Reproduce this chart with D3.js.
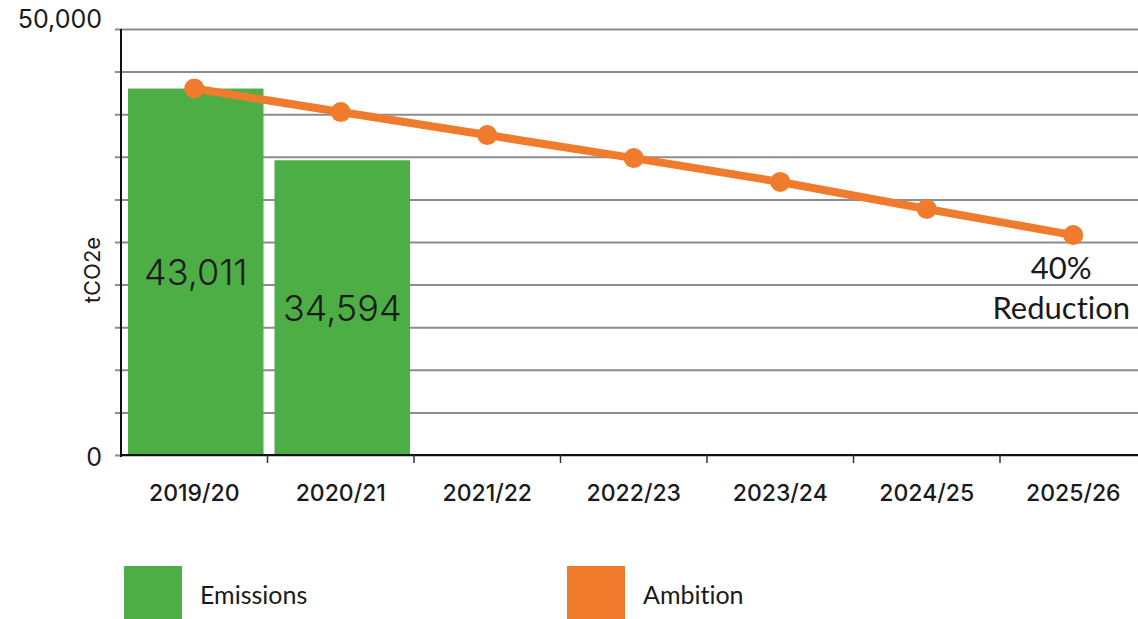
<!DOCTYPE html>
<html>
<head>
<meta charset="utf-8">
<script src="https://cdn.jsdelivr.net/npm/d3@7"></script>
<style>
  html, body { margin: 0; padding: 0; background: #fff; }
  svg { display: block; }
  text { font-variant-ligatures: none; }
</style>
</head>
<body>
<svg id="chart" width="1138" height="619"></svg>
<script>
// Financial years on the x axis
const years = ["2019/20", "2020/21", "2021/22", "2022/23", "2023/24", "2024/25", "2025/26"];
// Measured emissions (tCO2e)
const emissionYears = ["2019/20", "2020/21"];
const emissions = [43011, 34594];
// Ambition trajectory (tCO2e), ending at a 40% reduction on the baseline
const ambition = [43011, 40250, 37550, 34850, 32050, 28870, 25807];
// Y axis ticks: gridlines every 5,000, labels only at the ends
const yTicks = [0, 5000, 10000, 15000, 20000, 25000, 30000, 35000, 40000, 45000, 50000];
const yLabelled = [0, 50000];
const seriesNames = ["Emissions", "Ambition"];

const GREEN = "#4dae46";
const ORANGE = "#f07b2c";
const TEXT = "#1a1a1a";

const svg = d3.select("#chart");
const margin = { left: 121, top: 29 };
const plotH = 426;
const step = 146.5;

const x = d3.scaleBand()
  .domain(years)
  .range([margin.left, margin.left + step * years.length])
  .padding(0);

const y = d3.scaleLinear()
  .domain([0, 50000])
  .range([margin.top + plotH, margin.top]);

// Gridlines with short ticks left of the axis
const gridG = svg.append("g").attr("transform", `translate(${margin.left},0)`)
  .call(d3.axisLeft(y).tickValues(yTicks).tickFormat("").tickSizeInner(6).tickSizeOuter(0));
gridG.select(".domain").remove();
gridG.selectAll(".tick line")
  .attr("x1", -6).attr("x2", 1138 - margin.left)
  .attr("stroke", "#8c8c8c").attr("stroke-width", 2);

// Y axis labels
svg.append("g").selectAll("text").data(yLabelled).join("text")
  .attr("x", 102)
  .attr("y", d => y(d) + (d === 0 ? 11 : -1))
  .attr("text-anchor", "end")
  .attr("font-family", "Inter, 'Open Sans', sans-serif")
  .attr("font-size", 25)
  .attr("fill", TEXT)
  .text(d => d3.format(",")(d));

// Y axis title
svg.append("text")
  .attr("transform", `translate(100,${y(25000) + 28}) rotate(-90)`)
  .attr("text-anchor", "middle")
  .attr("font-family", "Inter, 'Open Sans', sans-serif")
  .attr("font-size", 22)
  .attr("fill", TEXT)
  .text("tCO2e");

// Emission bars
const barPadL = 7, barPadR = 4;
const bars = emissionYears.map((c, i) => ({ year: c, value: emissions[i] }));
svg.append("g").selectAll("rect").data(bars).join("rect")
  .attr("x", d => x(d.year) + barPadL)
  .attr("width", x.bandwidth() - barPadL - barPadR)
  .attr("y", d => y(d.value))
  .attr("height", d => y(0) - y(d.value))
  .attr("fill", GREEN);

// Bar value labels at the middle of each bar
svg.append("g").selectAll("text").data(bars).join("text")
  .attr("x", d => x(d.year) + (barPadL + x.bandwidth() - barPadR) / 2)
  .attr("y", d => (y(d.value) + y(0)) / 2 + 13)
  .attr("text-anchor", "middle")
  .attr("font-family", "Inter, 'Open Sans', sans-serif")
  .attr("font-weight", 300)
  .attr("font-size", 36)
  .attr("fill", TEXT)
  .text(d => d3.format(",")(d.value));

// Y axis line
svg.append("line")
  .attr("x1", margin.left).attr("x2", margin.left)
  .attr("y1", y(50000)).attr("y2", y(0) + 2)
  .attr("stroke", "#111").attr("stroke-width", 2);

// X axis with ticks at band boundaries
const xAxisG = svg.append("g").attr("transform", `translate(0,${y(0)})`)
  .call(d3.axisBottom(x).tickSize(0).tickSizeOuter(0));
xAxisG.select(".domain").attr("stroke", "#111").attr("stroke-width", 2)
  .attr("d", `M${margin.left},0H1138`);
xAxisG.selectAll(".tick text")
  .attr("dy", 0).attr("y", 46)
  .attr("font-family", "Inter, 'Open Sans', sans-serif")
  .attr("font-size", 23)
  .attr("font-weight", 500)
  .attr("fill", TEXT);
svg.append("g").selectAll("line").data(years.slice(1)).join("line")
  .attr("x1", d => x(d)).attr("x2", d => x(d))
  .attr("y1", y(0)).attr("y2", y(0) + 8)
  .attr("stroke", "#333").attr("stroke-width", 1.5);

// Ambition line and markers
const amb = years.map((c, i) => ({ year: c, value: ambition[i] }));
const cx = d => x(d.year) + x.bandwidth() / 2;
svg.append("path").datum(amb)
  .attr("fill", "none")
  .attr("stroke", ORANGE)
  .attr("stroke-width", 8)
  .attr("d", d3.line().x(cx).y(d => y(d.value)));
svg.append("g").selectAll("circle").data(amb).join("circle")
  .attr("cx", cx).attr("cy", d => y(d.value)).attr("r", 10)
  .attr("fill", ORANGE);

// Reduction annotation
const last = amb[amb.length - 1];
const note = svg.append("text")
  .attr("text-anchor", "middle")
  .attr("font-family", "Lato, 'Open Sans', sans-serif")
  .attr("font-size", 31)
  .attr("fill", TEXT);
note.append("tspan").attr("x", cx(last) - 12).attr("y", 279).text("40%");
note.append("tspan").attr("x", cx(last) - 12).attr("y", 319).text("Reduction");

// Legend
const legend = svg.append("g");
const legendX = [124, 567];
const legendColors = [GREEN, ORANGE];
legend.selectAll("rect").data(seriesNames).join("rect")
  .attr("x", (d, i) => legendX[i]).attr("y", 566)
  .attr("width", 58).attr("height", 60)
  .attr("fill", (d, i) => legendColors[i]);
legend.selectAll("text").data(seriesNames).join("text")
  .attr("x", (d, i) => legendX[i] + 76).attr("y", 604)
  .attr("font-family", "Lato, 'Open Sans', sans-serif")
  .attr("font-size", 25)
  .attr("fill", TEXT)
  .text(d => d);
</script>
</body>
</html>
